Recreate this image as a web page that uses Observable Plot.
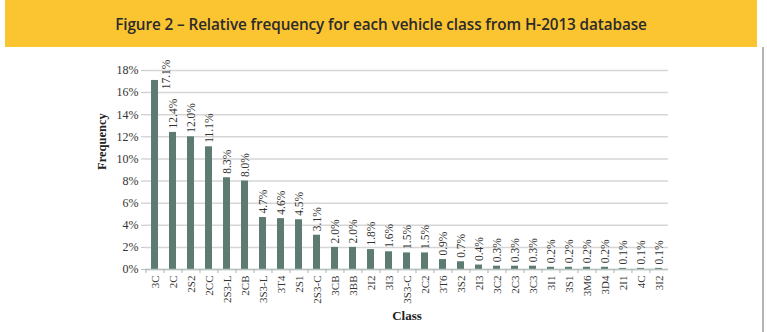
<!DOCTYPE html>
<html>
<head>
<meta charset="utf-8">
<script src="https://cdn.jsdelivr.net/npm/d3@7"></script>
<script src="https://cdn.jsdelivr.net/npm/@observablehq/plot@0.6"></script>
<style>
  html, body { margin: 0; padding: 0; background: #fff; }
  #page { position: relative; width: 767px; height: 332px; overflow: hidden; }
  #band {
    position: absolute; left: 5px; top: 0; width: 752px; height: 47px;
    background: #fbc431;
    display: flex; align-items: center; justify-content: center;
    font-family: "Open Sans", sans-serif; font-weight: 600; font-size: 15.3px;
    color: #2b2b2b; letter-spacing: -0.1px;
  }
  #edge { position: absolute; left: 762px; top: 47px; width: 2px; height: 285px; background: #b4b4b4; }
  #chart { position: absolute; left: 0; top: 47px; }
</style>
</head>
<body>
<div id="page">
  <div id="band">Figure 2 – Relative frequency for each vehicle class from H-2013 database</div>
  <div id="edge"></div>
  <div id="chart"></div>
</div>
<script>
// Vehicle classes in order of relative frequency (percent)
const classes = ["3C", "2C", "2S2", "2CC", "2S3-L", "2CB", "3S3-L", "3T4", "2S1", "2S3-C",
  "3CB", "3BB", "2I2", "3I3", "3S3-C", "2C2", "3T6", "3S2", "2I3", "3C2",
  "2C3", "3C3", "3I1", "3S1", "3M6", "3D4", "2I1", "4C", "3I2"];
const frequency = [17.1, 12.4, 12.0, 11.1, 8.3, 8.0, 4.7, 4.6, 4.5, 3.1,
  2.0, 2.0, 1.8, 1.6, 1.5, 1.5, 0.9, 0.7, 0.4, 0.3,
  0.3, 0.3, 0.2, 0.2, 0.2, 0.2, 0.1, 0.1, 0.1];
const yTicks = [0, 2, 4, 6, 8, 10, 12, 14, 16, 18];

const data = classes.map((c, i) => ({cls: c, value: frequency[i]}));

const W = 767, H = 285, ML = 145, MR = 99, MT = 23, MB = 63;
const halfStep = (W - ML - MR) / classes.length / 2;
const serif = "'Liberation Serif', 'Times New Roman', serif";
const pct = d => d.toFixed(1) + "%";
const topCut = 16; // tallest labels sit beside their bar

const chart = Plot.plot({
  width: W, height: H,
  marginLeft: ML, marginRight: MR, marginTop: MT, marginBottom: MB,
  style: {fontFamily: serif, background: "transparent", color: "#333"},
  x: {type: "band", domain: classes, paddingInner: 0.6, paddingOuter: 0.3},
  y: {domain: [0, 18]},
  marks: [
    Plot.gridY(yTicks, {stroke: "#d6d6d6", strokeOpacity: 1, strokeWidth: 1.5}),
    Plot.ruleX([0], {frameAnchor: "left", stroke: "#c4c4c4", strokeWidth: 1.5, y1: 0, y2: 18}),
    Plot.barY(data, {x: "cls", y: "value", fill: "#5d7a73"}),
    Plot.ruleY([0], {stroke: "#b9c4c1", strokeWidth: 1.5}),
    Plot.axisY(yTicks, {
      tickSize: 4, tickPadding: 3, stroke: "#c4c4c4", fontSize: 12,
      tickFormat: d => d + "%", label: null
    }),
    // category boundary ticks
    Plot.axisX({tickSize: 4, dx: -halfStep, text: null, stroke: "#b0b0b0", label: null}),
    Plot.axisX({
      tickSize: 0, tickPadding: 6, tickRotate: -90, fontSize: 11, label: null
    }),
    Plot.text(data.filter(d => d.value < topCut), {
      x: "cls", y: "value", text: d => pct(d.value),
      rotate: -90, textAnchor: "start", dy: -4, fontSize: 11.5, fill: "#333"
    }),
    Plot.text(data.filter(d => d.value >= topCut), {
      x: "cls", y: "value", text: d => pct(d.value),
      rotate: -90, textAnchor: "middle", dx: 11, dy: -6, fontSize: 11.5, fill: "#333"
    }),
    Plot.text(["Frequency"], {
      frameAnchor: "left", dx: -44, rotate: -90, fontSize: 12.5, fontWeight: "bold", fill: "#222"
    }),
    Plot.text(["Class"], {
      frameAnchor: "bottom", dy: 50, fontSize: 13, fontWeight: "bold", fill: "#222"
    })
  ]
});
document.getElementById("chart").appendChild(chart);
</script>
</body>
</html>
